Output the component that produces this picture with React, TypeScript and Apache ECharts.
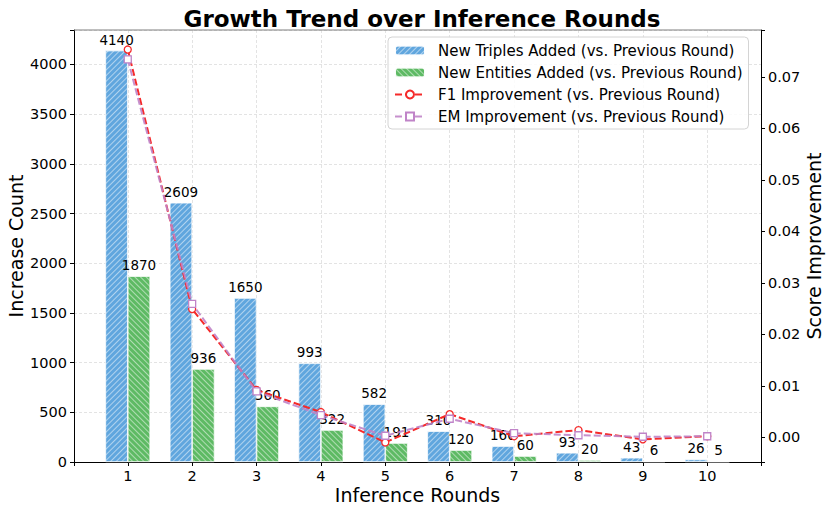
import React, { useEffect, useRef } from 'react';
import * as echarts from 'echarts';

const rounds = [1, 2, 3, 4, 5, 6, 7, 8, 9, 10];
const triplesAdded = [4140, 2609, 1650, 993, 582, 310, 160, 93, 43, 26];
const entitiesAdded = [1870, 936, 560, 322, 191, 120, 60, 20, 6, 5];
const f1Improvement = [0.0753, 0.0249, 0.0092, 0.0049, -0.001, 0.0045, 0.0002, 0.0014, -0.0004, 0.0002];
const emImprovement = [0.0734, 0.0259, 0.0089, 0.0043, 0.0003, 0.0036, 0.0008, 0.0004, 0.0001, 0.0002];

const FONT = 'DejaVu Sans';

export default function App() {
  const ref = useRef<HTMLDivElement>(null);
  useEffect(() => {
    document.body.style.margin = '0';
    const chart = echarts.init(ref.current as HTMLDivElement, null, { renderer: 'svg' });
    const pair = (ys: number[]) => rounds.map((r, i) => [r, ys[i]]);
    const grid = { color: '#dcdcdc', type: [3, 2], width: 0.8 };
    chart.setOption({
      animation: false,
      textStyle: { fontFamily: FONT },
      title: {
        text: 'Growth Trend over Inference Rounds',
        left: 417,
        textAlign: 'center',
        top: 2,
        textStyle: { fontFamily: FONT, fontSize: 23, fontWeight: 'bold', color: '#000' },
      },
      legend: {
        orient: 'vertical',
        left: 388,
        top: 37,
        itemWidth: 30,
        itemHeight: 10,
        itemGap: 7,
        padding: [6, 6, 5, 6],
        borderColor: '#d4d4d4',
        borderWidth: 1,
        borderRadius: 4,
        backgroundColor: 'rgba(255,255,255,0.85)',
        textStyle: { fontFamily: FONT, fontSize: 15, color: '#000', padding: [0, 0, 0, 8] },
        data: [
          'New Triples Added (vs. Previous Round)',
          'New Entities Added (vs. Previous Round)',
          'F1 Improvement (vs. Previous Round)',
          'EM Improvement (vs. Previous Round)',
        ],
      },
      grid: { left: 74, right: 70, top: 30, bottom: 51, containLabel: false, outerBoundsMode: 'none' },
      xAxis: {
        type: 'value',
        min: 0.165,
        max: 10.835,
        minInterval: 1,
        maxInterval: 1,
        name: 'Inference Rounds',
        nameLocation: 'middle',
        nameGap: 23,
        nameMoveOverlap: false,
        nameTextStyle: { fontFamily: FONT, fontSize: 19, color: '#000' },
        axisLine: { show: true, lineStyle: { color: '#000', width: 1 } },
        axisTick: { show: true, length: 4, lineStyle: { color: '#000' } },
        axisLabel: {
          fontFamily: FONT,
          fontSize: 14.5,
          color: '#000',
          margin: 6,
          formatter: (v: number) => (Math.abs(v - Math.round(v)) < 1e-6 ? String(Math.round(v)) : ''),
        },
        splitLine: { show: true, lineStyle: grid },
      },
      yAxis: [
        {
          type: 'value',
          min: 0,
          max: 4347,
          minInterval: 500,
          maxInterval: 500,
          name: 'Increase Count',
          nameLocation: 'middle',
          nameGap: 49,
          nameMoveOverlap: false,
          nameTextStyle: { fontFamily: FONT, fontSize: 19, color: '#000' },
          axisLine: { show: true, lineStyle: { color: '#000', width: 1 } },
          axisTick: { show: true, length: 4, lineStyle: { color: '#000' } },
          axisLabel: {
            fontFamily: FONT,
            fontSize: 14.5,
            color: '#000',
            margin: 7,
            formatter: (v: number) => (v % 500 === 0 ? String(v) : ''),
          },
          splitLine: { show: true, lineStyle: grid },
        },
        {
          type: 'value',
          min: -0.0048,
          max: 0.0791,
          minInterval: 0.01,
          maxInterval: 0.01,
          position: 'right',
          name: 'Score Improvement',
          nameLocation: 'middle',
          nameGap: 43,
          nameRotate: 90,
          nameMoveOverlap: false,
          nameTextStyle: { fontFamily: FONT, fontSize: 19, color: '#000' },
          axisLine: { show: true, lineStyle: { color: '#000', width: 1 } },
          axisTick: { show: true, length: 4, lineStyle: { color: '#000' } },
          axisLabel: {
            fontFamily: FONT,
            fontSize: 14.5,
            color: '#000',
            margin: 7,
            formatter: (v: number) =>
              Math.abs(v * 100 - Math.round(v * 100)) < 1e-6 ? (Math.round(v * 100) / 100).toFixed(2) : '',
          },
          splitLine: { show: false },
        },
      ],
      graphic: [
        {
          type: 'line',
          shape: { x1: 74, y1: 30, x2: 761, y2: 30 },
          style: { stroke: '#808080', lineWidth: 1.2 },
          z: 10,
        },
      ],
      series: [
        {
          name: 'New Triples Added (vs. Previous Round)',
          type: 'bar',
          data: pair(triplesAdded),
          barWidth: 22.4,
          barGap: '0%',
          itemStyle: {
            color: '#60a6de',
            borderColor: 'rgba(255,255,255,0.8)',
            borderWidth: 0.6,
            decal: {
              symbol: 'rect',
              color: 'rgba(255,255,255,0.5)',
              dashArrayX: [1, 0],
              dashArrayY: [1, 2.6],
              rotation: -Math.PI / 4,
            },
          },
          label: {
            show: true,
            position: 'top',
            distance: 4,
            fontFamily: FONT,
            fontSize: 13.5,
            color: '#000',
          },
        },
        {
          name: 'New Entities Added (vs. Previous Round)',
          type: 'bar',
          data: pair(entitiesAdded),
          barWidth: 22.4,
          barGap: '0%',
          itemStyle: {
            color: '#5eba64',
            borderColor: 'rgba(255,255,255,0.8)',
            borderWidth: 0.6,
            decal: {
              symbol: 'rect',
              color: 'rgba(255,255,255,0.5)',
              dashArrayX: [1, 0],
              dashArrayY: [1, 2.6],
              rotation: Math.PI / 4,
            },
          },
          label: {
            show: true,
            position: 'top',
            distance: 4,
            fontFamily: FONT,
            fontSize: 13.5,
            color: '#000',
          },
        },
        {
          name: 'F1 Improvement (vs. Previous Round)',
          type: 'line',
          yAxisIndex: 1,
          data: pair(f1Improvement),
          symbol: 'circle',
          symbolSize: 7,
          lineStyle: { color: '#f52a2a', width: 2, type: [7, 3] },
          itemStyle: { color: '#ffffff', borderColor: '#f52a2a', borderWidth: 1.3 },
          z: 5,
        },
        {
          name: 'EM Improvement (vs. Previous Round)',
          type: 'line',
          yAxisIndex: 1,
          data: pair(emImprovement),
          symbol: 'rect',
          symbolSize: 7,
          lineStyle: { color: '#c084c8', width: 2, type: [7, 3], opacity: 0.9 },
          itemStyle: { color: '#ffffff', borderColor: '#c084c8', borderWidth: 1.3 },
          z: 6,
        },
      ],
    });
    return () => chart.dispose();
  }, []);
  return <div ref={ref} style={{ width: 831, height: 513 }} />;
}
